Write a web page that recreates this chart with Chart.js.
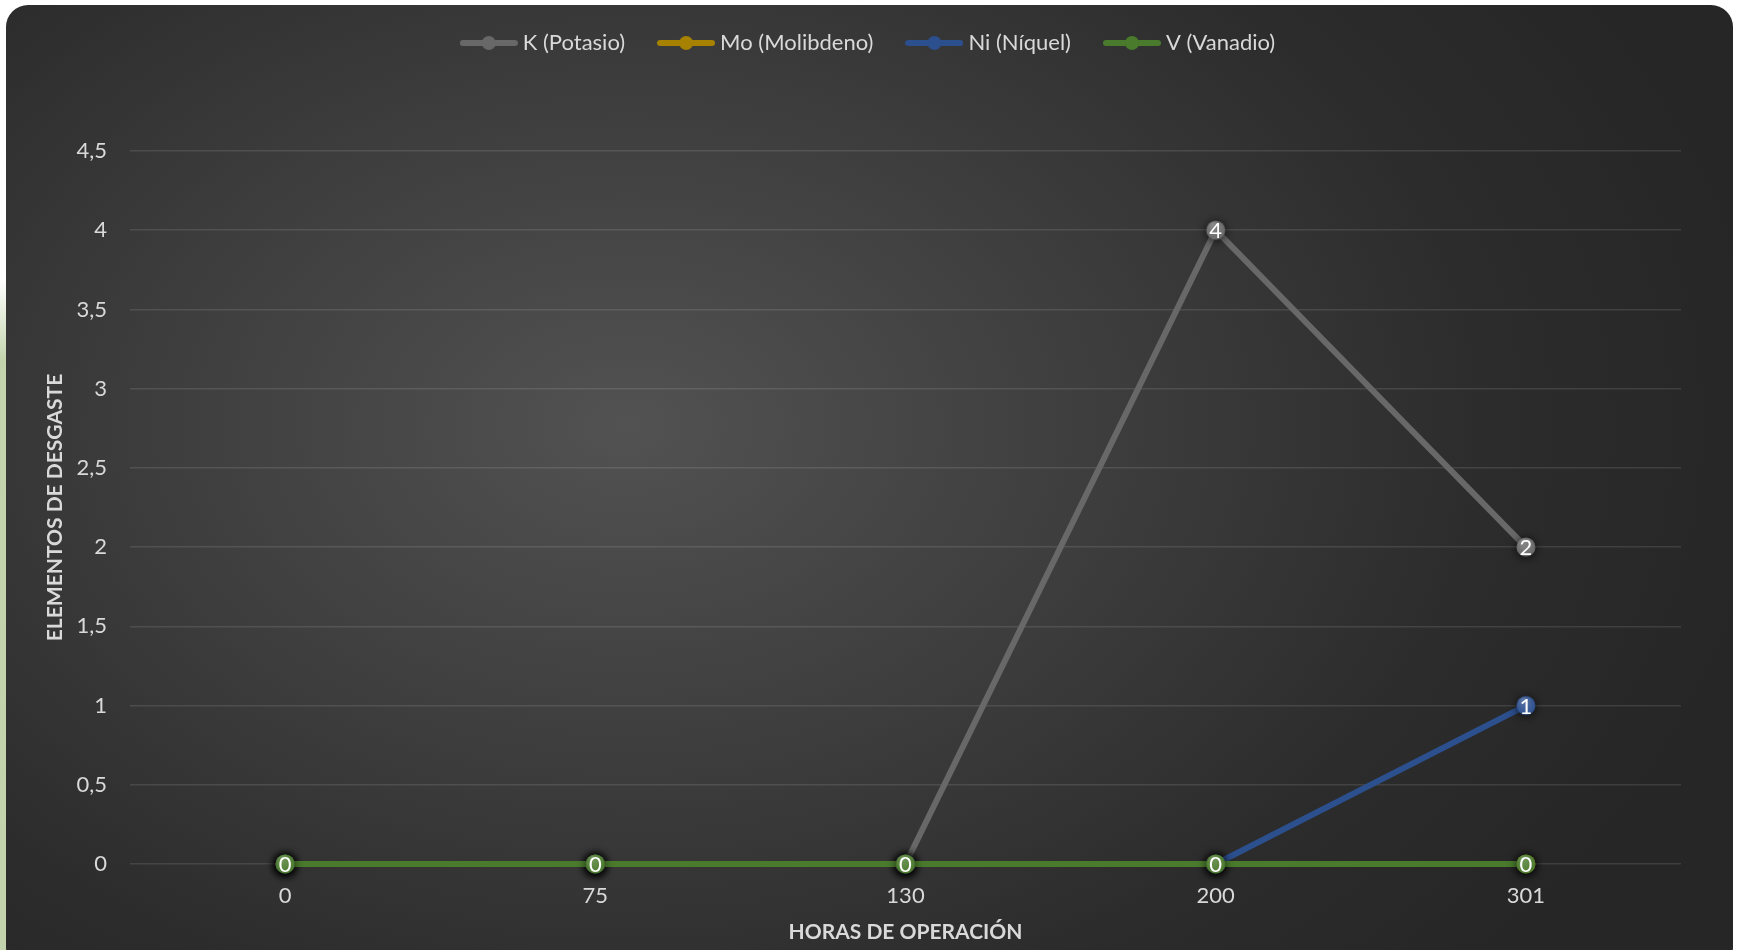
<!DOCTYPE html>
<html><head><meta charset="utf-8">
<script src="https://cdn.jsdelivr.net/npm/chart.js@4.4.1/dist/chart.umd.min.js"></script>
<style>
html,body{margin:0;padding:0;width:1741px;height:950px;overflow:hidden;background:#fff;}
#strip{position:absolute;left:0;top:280px;width:10px;height:670px;background:linear-gradient(to bottom, rgba(195,212,173,0) 0px, #c3d4ad 80px, #c3d4ad 100%);}
#card{position:absolute;left:6px;top:5px;width:1727px;height:965px;border-radius:22px;
background: radial-gradient(ellipse 1150px 800px at 620px 420px, #525252 0%, #3e3e3e 40%, #2c2c2c 75%, #262626 100%);}
#wrap{position:absolute;left:0;top:-6px;width:1741px;height:956px;}
</style></head><body>
<div id="strip"></div><div id="card"></div>
<div id="wrap"><canvas id="c" width="1741" height="956"></canvas></div>
<script>
const categories = ['0', '75', '130', '200', '301'];
const kPotasio = [0, 0, 0, 4, 2];
const moMolibdeno = [0, 0, 0, 0, 0];
const niNiquel = [0, 0, 0, 0, 1];
const vVanadio = [0, 0, 0, 0, 0];
const seriesNames = ['K (Potasio)', 'Mo (Molibdeno)', 'Ni (Níquel)', 'V (Vanadio)'];
const seriesColors = ['#686868', '#a68200', '#2c4f8e', '#4a7a2c'];
const yTickLabels = ['0', '0,5', '1', '1,5', '2', '2,5', '3', '3,5', '4', '4,5'];
const xTitle = 'HORAS DE OPERACIÓN';
const yTitle = 'ELEMENTOS DE DESGASTE';

const FONT = 'Lato';
const TXT = '#d9d9d9';

function markerImage(color) {
  const c = document.createElement('canvas');
  c.width = 44; c.height = 44;
  const g = c.getContext('2d');
  g.shadowColor = 'rgba(0,0,0,0.8)';
  g.shadowBlur = 10;
  g.shadowOffsetY = 1;
  g.beginPath(); g.arc(22, 22, 9.5, 0, Math.PI * 2);
  g.fillStyle = color; g.fill();
  g.shadowColor = 'transparent';
  const gr = g.createRadialGradient(19, 16, 1, 22, 22, 10);
  gr.addColorStop(0, 'rgba(255,255,255,0.22)');
  gr.addColorStop(1, 'rgba(255,255,255,0)');
  g.beginPath(); g.arc(22, 22, 9.5, 0, Math.PI * 2);
  g.fillStyle = gr; g.fill();
  return c;
}
function legendImage(color) {
  const c = document.createElement('canvas');
  c.width = 58; c.height = 16;
  const g = c.getContext('2d');
  g.strokeStyle = color; g.lineWidth = 6; g.lineCap = 'round';
  g.beginPath(); g.moveTo(3, 8); g.lineTo(55, 8); g.stroke();
  g.beginPath(); g.arc(29, 8, 7, 0, Math.PI * 2);
  g.fillStyle = color; g.fill();
  return c;
}

const seriesData = [kPotasio, moMolibdeno, niNiquel, vVanadio];
const datasets = seriesData.map((d, i) => ({
  label: seriesNames[i],
  data: d,
  yAxisID: 'y',
  borderColor: seriesColors[i],
  backgroundColor: seriesColors[i],
  borderWidth: 6,
  pointStyle: markerImage(seriesColors[i]),
  pointRadius: 9,
  pointHoverRadius: 9,
  order: 4 - i,
  clip: false,
  tension: 0
}));
const legendImgs = seriesColors.map(legendImage);

const legendHeightPlugin = {
  id: 'legendHeight',
  beforeInit(chart) {
    const lg = chart.legend;
    if (!lg) return;
    const f = lg.fit;
    lg.fit = function () { f.call(this); this.height = 157; };
  }
};

const dataLabelPlugin = {
  id: 'dataLabels',
  afterDatasetsDraw(chart) {
    const ctx = chart.ctx;
    const seen = new Set();
    ctx.save();
    ctx.font = '22px ' + FONT;
    ctx.fillStyle = '#ffffff';
    ctx.textAlign = 'center';
    ctx.textBaseline = 'middle';
    const metas = chart.getSortedVisibleDatasetMetas().slice();
    metas.forEach(meta => {
      const ds = chart.data.datasets[meta.index];
      meta.data.forEach((pt, j) => {
        const key = Math.round(pt.x) + ',' + Math.round(pt.y);
        if (seen.has(key)) return;
        seen.add(key);
        ctx.fillText(String(ds.data[j]).replace('.', ','), pt.x, pt.y + 1);
      });
    });
    ctx.restore();
  }
};

new Chart(document.getElementById('c'), {
  type: 'line',
  data: { labels: categories, datasets },
  plugins: [legendHeightPlugin, dataLabelPlugin],
  options: {
    responsive: false,
    animation: false,
    devicePixelRatio: 1,
    layout: { padding: { left: 0, right: 0, top: 0, bottom: 0 } },
    plugins: {
      tooltip: { enabled: false },
      legend: {
        display: true,
        position: 'top',
        labels: {
          usePointStyle: true,
          pointStyleWidth: 46,
          boxHeight: 16,
          padding: 38,
          color: TXT,
          font: { family: FONT, size: 22, lineHeight: 1.0 },
          sort: (a, b) => a.datasetIndex - b.datasetIndex,
          generateLabels(chart) {
            const items = Chart.defaults.plugins.legend.labels.generateLabels(chart);
            items.forEach(it => { it.pointStyle = legendImgs[it.datasetIndex]; });
            return items;
          }
        }
      }
    },
    scales: {
      x: {
        type: 'category',
        offset: true,
        grid: { display: false, drawTicks: false },
        border: { display: false },
        ticks: { color: TXT, font: { family: FONT, size: 22 }, padding: 19, maxRotation: 0 },
        title: { display: true, text: xTitle, color: TXT, font: { family: FONT, size: 21, weight: 'bold', lineHeight: 1.2 }, padding: { top: 0, bottom: 5 } },
        afterFit(s) { s.height = 86; }
      },
      y: {
        position: 'left',
        min: 0, max: 4.5,
        grid: { color: 'rgba(255,255,255,0.11)', lineWidth: 1.5, drawTicks: false },
        border: { display: false },
        ticks: {
          stepSize: 0.5,
          color: TXT,
          font: { family: FONT, size: 22 },
          padding: 23,
          callback: (v, i) => yTickLabels[i]
        },
        title: { display: true, text: yTitle, color: TXT, font: { family: FONT, size: 21, weight: 'bold', lineHeight: 1.2 }, padding: { top: 43, bottom: 0 } },
        afterFit(s) { s.width = 130; }
      },
      yRight: {
        position: 'right',
        display: true,
        grid: { display: false, drawTicks: false },
        border: { display: false },
        ticks: { display: false },
        afterFit(s) { s.width = 60; }
      }
    }
  }
});
</script>
</body></html>
